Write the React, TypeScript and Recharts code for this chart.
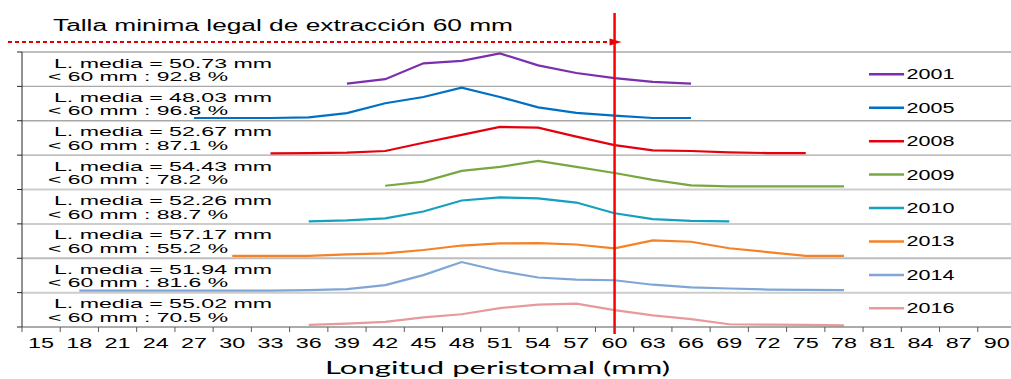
import { LineChart, Line, XAxis, YAxis, ReferenceLine, Legend } from "recharts";

// categorías de talla (mm)
const CATEGORIES = [15, 18, 21, 24, 27, 30, 33, 36, 39, 42, 45, 48, 51, 54, 57, 60, 63, 66, 69, 72, 75, 78, 81, 84, 87, 90];

const YEARS = ["2001", "2005", "2008", "2009", "2010", "2013", "2014", "2016"];
const COLORS = ["#7B2FAE", "#0070C4", "#E5000F", "#77A840", "#14A0BE", "#F58226", "#7FA6D5", "#E8999B"];
const MEAN_LENGTH = ["50.73", "48.03", "52.67", "54.43", "52.26", "57.17", "51.94", "55.02"];
const PCT_UNDER_60 = ["92.8", "96.8", "87.1", "78.2", "88.7", "55.2", "81.6", "70.5"];

// primera categoría de cada serie
const START = [39, 27, 33, 42, 36, 30, 18, 36];

// frecuencia relativa, en % de la altura de cada franja
const S2001 = [8, 21, 67, 74, 96, 61, 39, 24, 13, 8];
const S2005 = [8, 8, 8, 10, 22, 51, 69, 96, 69, 39, 23, 15, 8, 8];
const S2008 = [5, 6, 7, 12, 36, 59, 82, 80, 54, 29, 14, 12, 8, 6, 6];
const S2009 = [11, 23, 54, 66, 83, 66, 48, 28, 12, 9, 9, 9, 9];
const S2010 = [7, 10, 16, 36, 68, 77, 74, 62, 31, 14, 9, 7];
const S2013 = [7, 7, 7, 11, 14, 24, 37, 43, 44, 40, 29, 52, 48, 29, 18, 7, 7];
const S2014 = [6, 6, 6, 6, 6, 6, 7, 10, 22, 51, 89, 63, 44, 38, 36, 23, 15, 12, 9, 8, 7];
const S2016 = [6, 10, 15, 28, 37, 55, 65, 68, 49, 34, 23, 8, 7, 6, 5];
const SERIES = [S2001, S2005, S2008, S2009, S2010, S2013, S2014, S2016];

const GRID_COLORS = ["#A8A8A8", "#A8A8A8", "#A8A8A8", "#A8A8A8", "#CDCDCD", "#CDCDCD", "#BDBDBD", "#CDCDCD"];

const W = 1016;
const H = 379;
const TOP = 52;
const LEFT = 22;
const XAXIS_H = 52;
const STEP = (W - LEFT) / CATEGORIES.length;
const FONT = "'Liberation Sans', Arial, sans-serif";

const data = CATEGORIES.map((x) => {
  const row: Record<string, number | null> = { x };
  YEARS.forEach((year, i) => {
    const v = SERIES[i][(x - START[i]) / 3];
    const band = YEARS.length - 1 - i;
    row[year] = v === undefined ? null : band + v / 100;
  });
  return row;
});

function XTick(props: any) {
  const { x, y, payload } = props;
  const bx = x - STEP / 2;
  return (
    <g>
      <line x1={bx} y1={y} x2={bx} y2={y + 5} stroke="#595959" />
      <text
        x={x}
        y={y + 21}
        textAnchor="middle"
        textLength={26}
        lengthAdjust="spacingAndGlyphs"
        fontSize={14}
        fontFamily={FONT}
        fill="#000"
      >
        {payload.value}
      </text>
    </g>
  );
}

function bandLabel(i: number) {
  return (props: any) => {
    const top = props.viewBox.y;
    return (
      <g fontFamily={FONT} fontSize={13} fill="#000">
        <text x={54} y={top + 15.5} textLength={218} lengthAdjust="spacingAndGlyphs">
          {`L. media = ${MEAN_LENGTH[i]} mm`}
        </text>
        <text x={48} y={top + 29} textLength={180} lengthAdjust="spacingAndGlyphs">
          {`< 60 mm : ${PCT_UNDER_60[i]} %`}
        </text>
      </g>
    );
  };
}

function LimitShape(props: any) {
  const { x1 } = props;
  return (
    <g>
      <text
        x={53}
        y={TOP - 21}
        fontFamily={FONT}
        fontSize={16}
        fill="#000"
        textLength={460}
        lengthAdjust="spacingAndGlyphs"
      >
        Talla minima legal de extracción 60 mm
      </text>
      <line x1={8} y1={TOP - 10} x2={x1 - 4} y2={TOP - 10} stroke="#E00000" strokeWidth={2.2} strokeDasharray="4 3" />
      <path d={`M${x1 - 5},${TOP - 13.5} L${x1 + 7},${TOP - 10} L${x1 - 5},${TOP - 6.5} Z`} fill="#E00000" />
      <line x1={x1} y1={13} x2={x1} y2={H - XAXIS_H + 7} stroke="#FF0000" strokeWidth={2.5} />
    </g>
  );
}

function LegendBox() {
  return (
    <svg width={150} height={270}>
      {YEARS.map((year, i) => {
        const y = 14.3 + i * 33.43;
        return (
          <g key={year}>
            <line x1={9} y1={y} x2={44} y2={y} stroke={COLORS[i]} strokeWidth={2.5} />
            <text
              x={46.5}
              y={y + 5}
              fontFamily={FONT}
              fontSize={14}
              fill="#000"
              textLength={48}
              lengthAdjust="spacingAndGlyphs"
            >
              {year}
            </text>
          </g>
        );
      })}
    </svg>
  );
}

export default function App() {
  return (
    <div
      style={{ position: "absolute", left: 0, top: 0, width: 1011, height: H, overflow: "hidden", background: "#fff" }}
    >
      <LineChart width={W} height={H} data={data} margin={{ top: TOP, right: 0, bottom: 0, left: 0 }}>
        <XAxis
          dataKey="x"
          type="number"
          domain={[13.5, 91.5]}
          ticks={CATEGORIES}
          interval={0}
          height={XAXIS_H}
          tickLine={false}
          tickSize={0}
          tickMargin={0}
          tick={<XTick />}
          stroke="#595959"
          label={{
            content: (p: any) => (
              <text
                x={497.5}
                y={p.viewBox.y + 47}
                textAnchor="middle"
                fontFamily="Lato, 'Open Sans', sans-serif"
                fontSize={18}
                fill="#000"
                textLength={345}
                lengthAdjust="spacingAndGlyphs"
              >
                Longitud peristomal (mm)
              </text>
            ),
          }}
        />
        <YAxis
          type="number"
          domain={[0, 8]}
          ticks={[0, 1, 2, 3, 4, 5, 6, 7, 8]}
          interval={0}
          width={LEFT}
          tickSize={5}
          tick={() => <g />}
          stroke="#262626"
        />
        {YEARS.map((year, i) => (
          <ReferenceLine
            key={"band" + year}
            y={YEARS.length - i}
            stroke={GRID_COLORS[i]}
            strokeWidth={i < 4 ? 1.3 : 2}
            label={bandLabel(i)}
          />
        ))}
        {YEARS.map((year, i) => (
          <Line
            key={year}
            dataKey={year}
            name={year}
            type="linear"
            stroke={COLORS[i]}
            strokeWidth={2.2}
            dot={false}
            activeDot={false}
            isAnimationActive={false}
          />
        ))}
        <ReferenceLine x={60} stroke="#FF0000" shape={<LimitShape />} />
        <Legend
          layout="horizontal"
          verticalAlign="middle"
          align="center"
          wrapperStyle={{ left: 860, top: 60, width: 150, height: 270 }}
          content={() => <LegendBox />}
        />
      </LineChart>
    </div>
  );
}
